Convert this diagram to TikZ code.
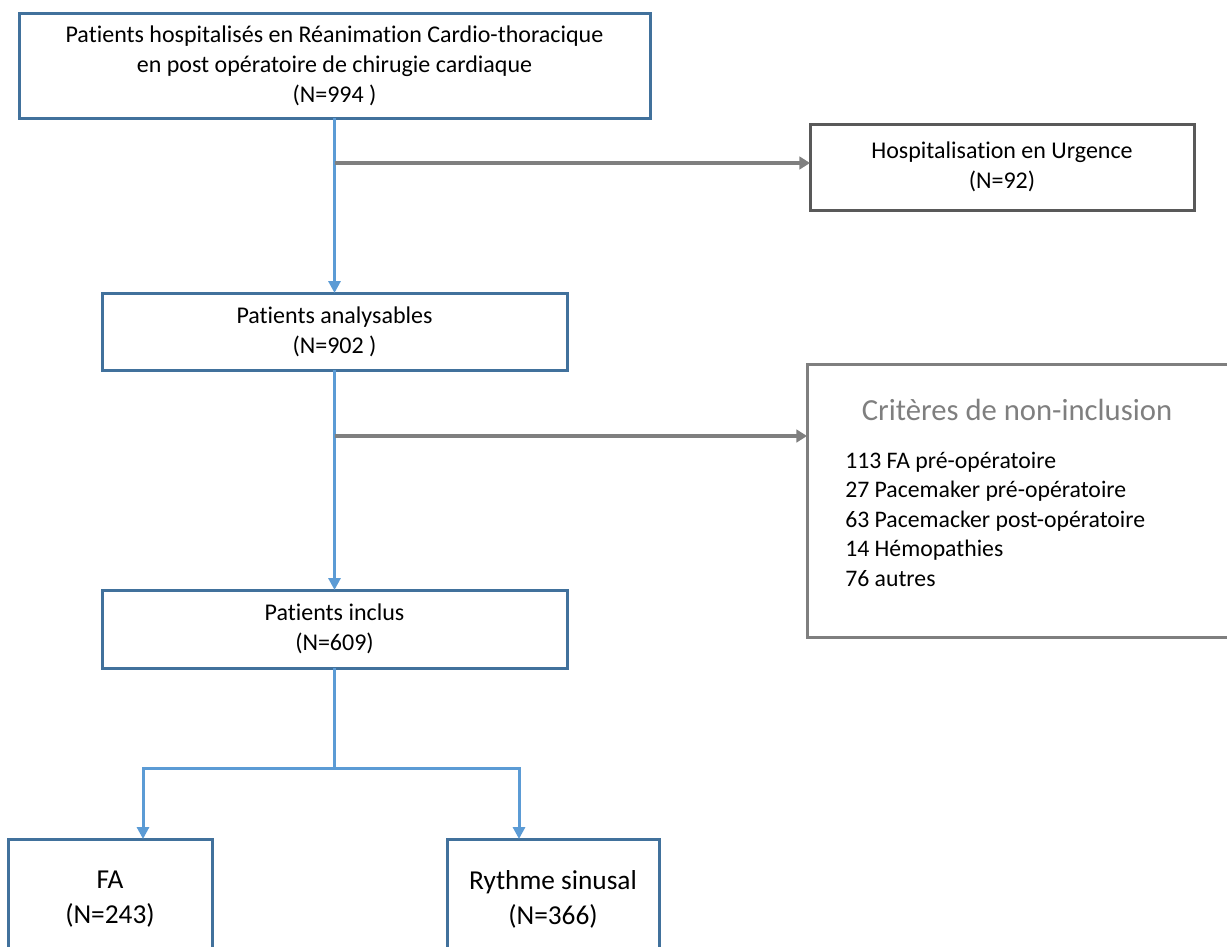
\documentclass[tikz,border=0pt]{standalone}
\usepackage{fontspec}
\setmainfont[Ligatures=NoCommon]{Carlito}
\usetikzlibrary{arrows.meta,positioning,calc}
\definecolor{boxblue}{HTML}{41719C}
\definecolor{lineblue}{HTML}{5B9BD5}
\definecolor{linegray}{HTML}{7F7F7F}
\definecolor{boxgray}{HTML}{595959}
\tikzset{
    box/.style={
        draw=boxblue,
        line width=2.25pt,
        outer sep=0pt,
        align=center,
        font=\fontsize{18}{22.5}\selectfont
    },
    sidebox/.style={
        draw=boxgray,
        line width=2.25pt,
        outer sep=0pt,
        align=center,
        font=\fontsize{18}{22.5}\selectfont
    },
    bigbox/.style={
        box,
        font=\fontsize{20.5}{26.25}\selectfont
    },
    flow/.style={-{Triangle[length=9pt,width=9pt]}, draw=lineblue, line width=2.25pt},
    branch/.style={draw=lineblue, line width=2.25pt},
    side/.style={-{Triangle[length=8pt,width=9.5pt]}, draw=linegray, line width=2.6pt}
}

\begin{document}
\begin{tikzpicture}[x=0.75pt, y=-0.75pt]
        \useasboundingbox (0,0) rectangle (1227,946);
        \clip (0,0) rectangle (1227,946);

        % main chain
        \node[box, minimum width=473.25pt, minimum height=78.75pt] (hosp) at (334.5,65.5)
            {Patients hospitalisés en Réanimation Cardio-thoracique\\en post opératoire de chirugie cardiaque\\(N=994 )};
        \node[box, minimum width=348.75pt, minimum height=57.75pt, below=131.25pt of hosp] (anal)
            {Patients analysables\\(N=902 )};
        \node[box, minimum width=348.75pt, minimum height=58.5pt, below=165pt of anal] (incl)
            {Patients inclus\\(N=609)};

        % exclusions
        \node[sidebox, minimum width=288pt, minimum height=64.5pt] (urg) at (1002,167)
            {Hospitalisation en Urgence\\(N=92)};
        \node[draw=linegray, line width=2.25pt, outer sep=0pt, minimum width=324.75pt, minimum height=204.75pt] (crit) at (1023.5,500.5) {};
        \node[text=linegray, font=\fontsize{23}{26}\selectfont] (crittitle) at (1017,410) {Critères de non-inclusion};
        \node[anchor=west, align=left, inner sep=0pt, font=\fontsize{17.8}{22.1}\selectfont] (critlist) at (845,519)
            {113 FA pré-opératoire\\27 Pacemaker pré-opératoire\\63 Pacemacker post-opératoire\\14 Hémopathies\\76 autres};

        % groups
        \node[bigbox, minimum width=153pt, minimum height=90pt] (fa) at (110,899) {FA\\(N=243)};
        \node[bigbox, minimum width=159pt, minimum height=90pt] (rs) at (553,899) {Rythme sinusal\\(N=366)};

        \coordinate (j1) at (hosp.south |- 0,163);
        \coordinate (j2) at (anal.south |- 0,436);
        \coordinate (split) at (incl.south |- 0,768);
        \coordinate (brL) at (143,768);
        \coordinate (brR) at (519,768);

        \draw[flow] (hosp) -- (anal);
        \draw[flow] (anal) -- (incl);
        \draw[side] (j1) -- (j1 -| urg.west);
        \draw[side] (j2) -- (j2 -| crit.west);
        \draw[branch] (incl) -- (split);
        \draw[flow] (split) -| (brL |- fa.north);
        \draw[flow] (split) -| (brR |- rs.north);
    \end{tikzpicture}
\end{document}
